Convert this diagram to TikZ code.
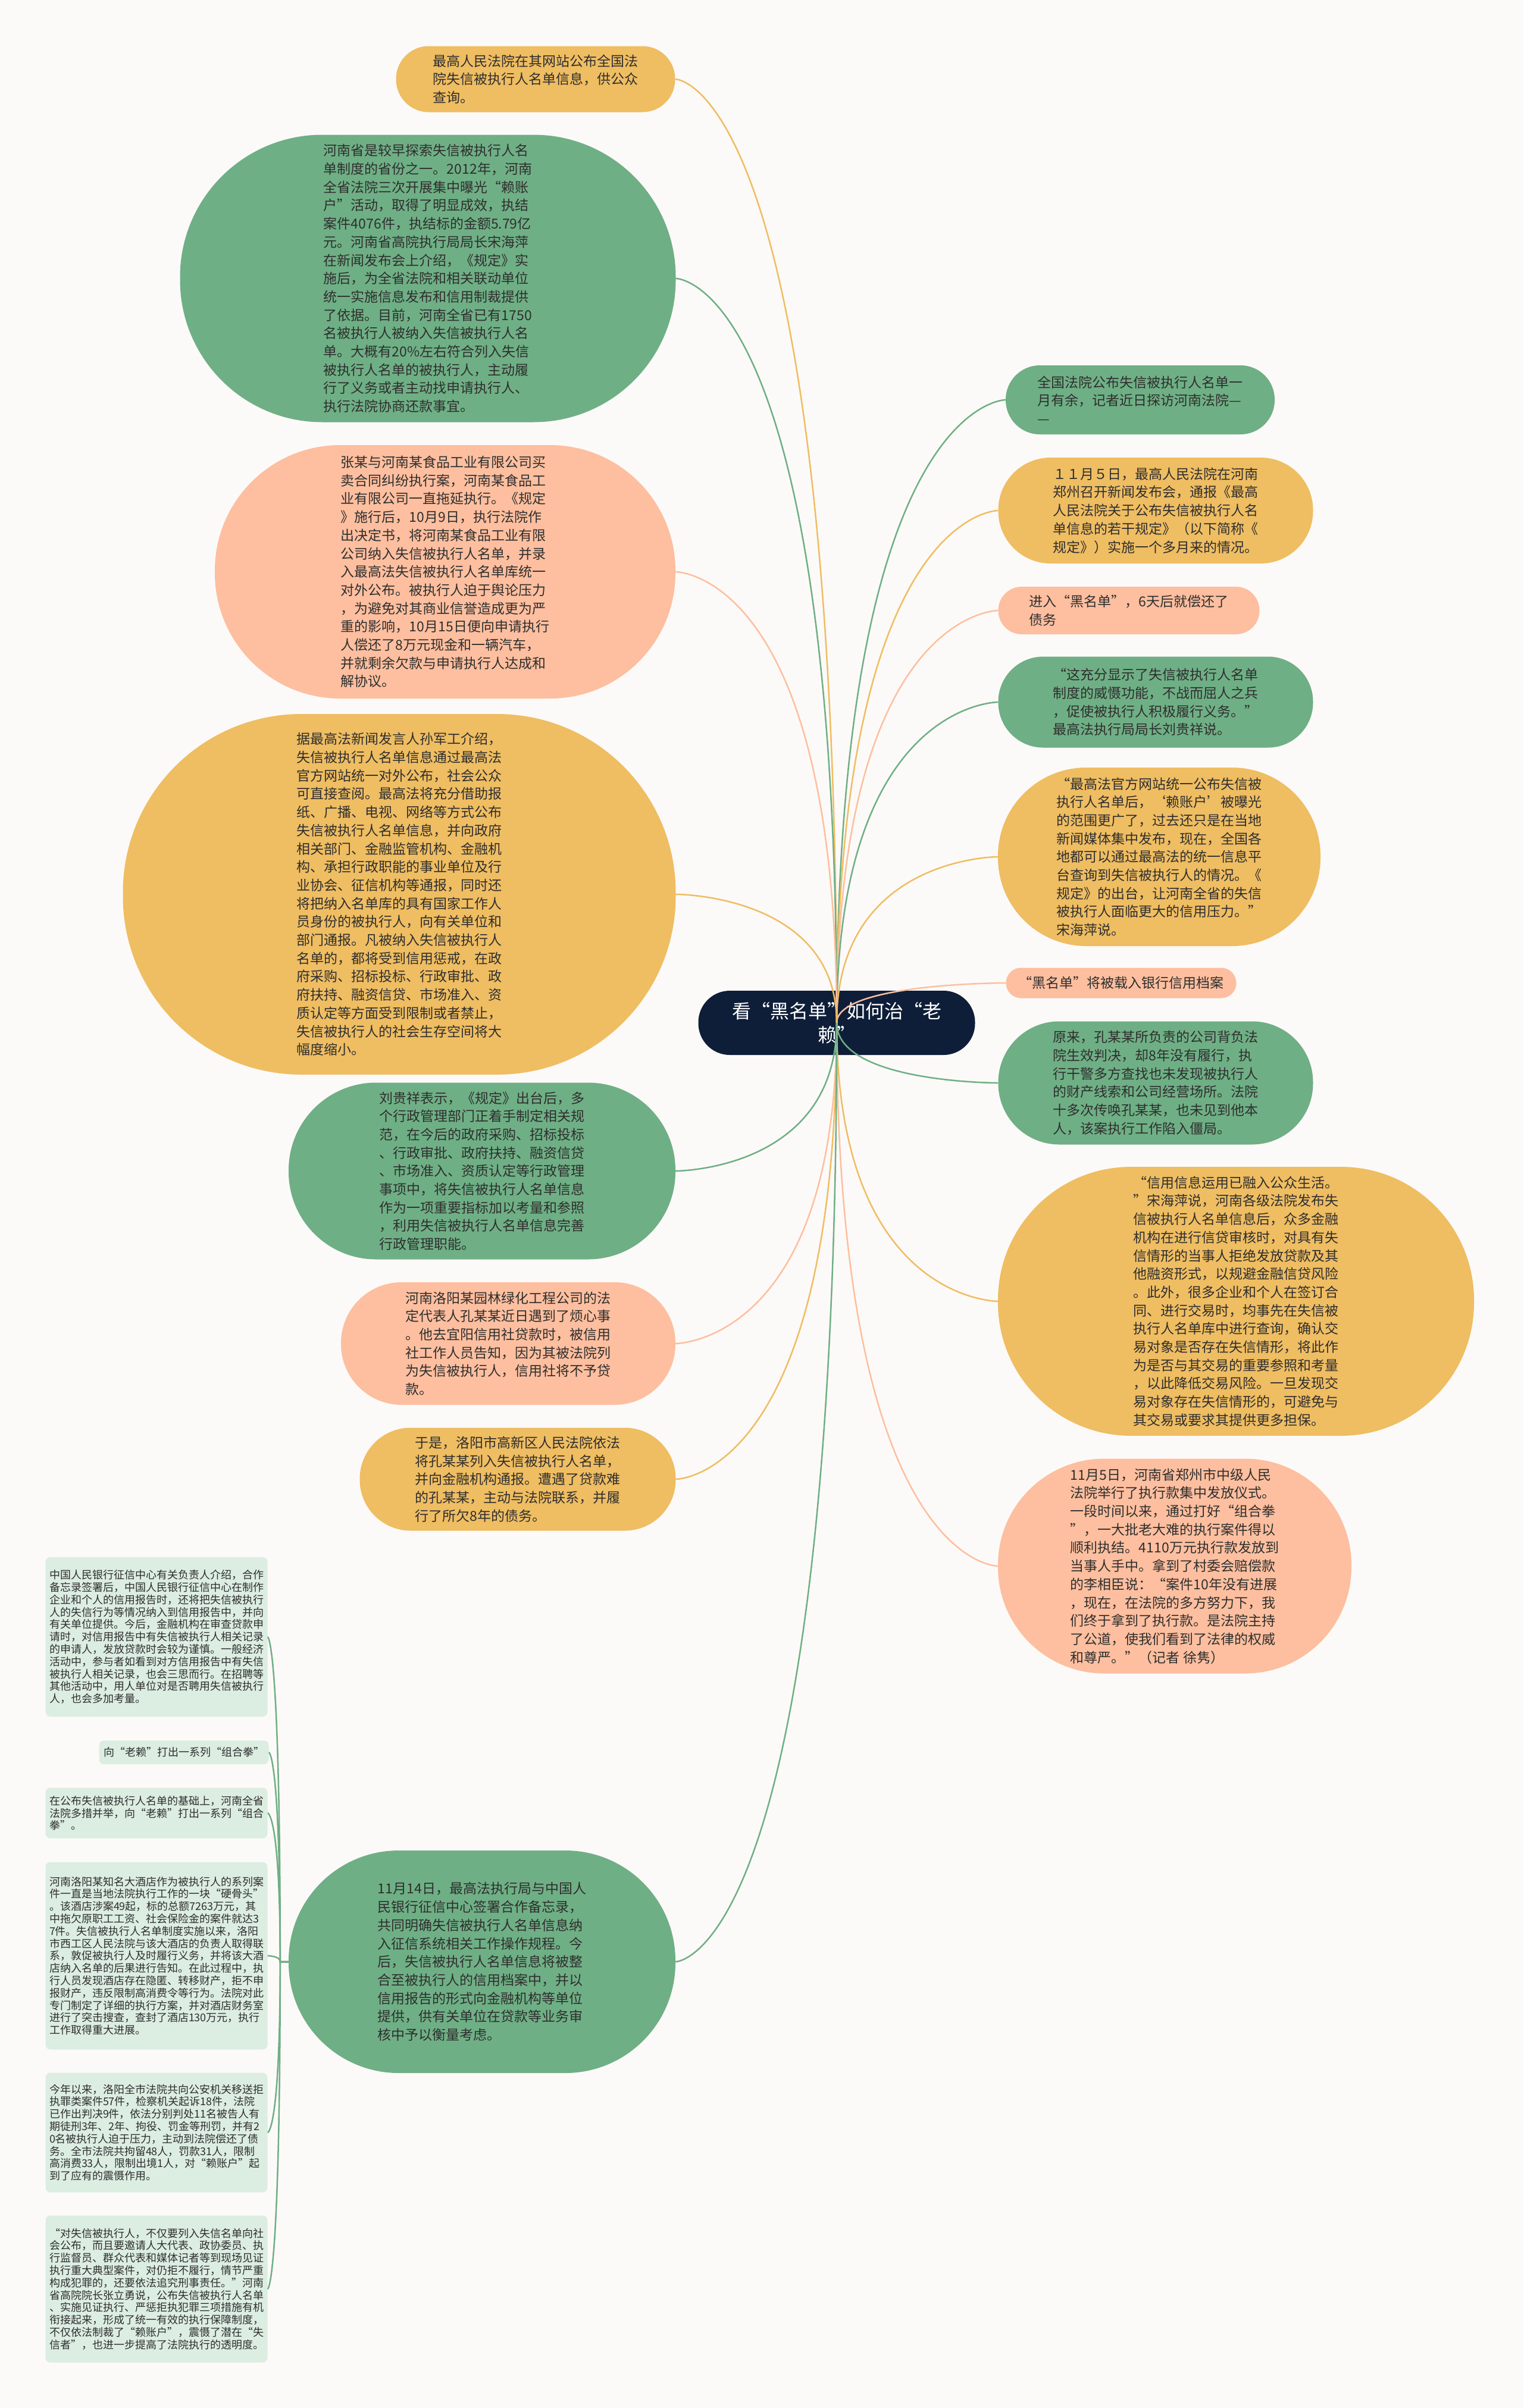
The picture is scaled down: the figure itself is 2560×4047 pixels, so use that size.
\documentclass[tikz,border=0pt]{standalone}
\usepackage{fontspec}
\setmainfont{Noto Sans CJK SC}
\usetikzlibrary{calc}
\definecolor{yel}{HTML}{EFBD62}
\definecolor{grn}{HTML}{6FAF85}
\definecolor{sal}{HTML}{FDBF9F}
\definecolor{navy}{HTML}{0E1E38}
\definecolor{pale}{HTML}{DCEDE2}
\definecolor{bgc}{HTML}{FCFAF8}
\definecolor{ink}{HTML}{2E2E2E}

\begin{document}
\begin{tikzpicture}[x=1pt,y=-1pt,
	bub/.style n args={3}{fill=#1,text=ink,align=left,inner sep=0pt,minimum width=#2,minimum height=#3,rounded corners=#3*0.495,font=\fontsize{23}{30.7}\selectfont},
	box/.style={fill=pale,text=ink,align=left,inner sep=0pt,rounded corners=8pt,minimum width=373pt,font=\fontsize{18}{20.8}\selectfont},
	link/.style={line width=2.5pt,draw=#1}]
	\fill[bgc] (0,0) rectangle (2560,4047);
	\useasboundingbox (0,0) rectangle (2560,4047);

	\node [fill=navy,text=white,align=center,inner sep=0pt,minimum width=465pt,minimum height=108pt,rounded corners=53pt,font=\fontsize{32}{40}\selectfont] (root) at (1406,1719) {看“黑名单”如何治“老\\赖”};

	% left side
	\node [bub={yel}{469pt}{111pt}] (web) at (900,133) {最高人民法院在其网站公布全国法\\
院失信被执行人名单信息，供公众\\
查询。};
	\node [bub={grn}{833pt}{483pt}] (henan) at (719,468) {河南省是较早探索失信被执行人名\\
单制度的省份之一。2012年，河南\\
全省法院三次开展集中曝光“赖账\\
户”活动，取得了明显成效，执结\\
案件4076件，执结标的金额5.79亿\\
元。河南省高院执行局局长宋海萍\\
在新闻发布会上介绍，《规定》实\\
施后，为全省法院和相关联动单位\\
统一实施信息发布和信用制裁提供\\
了依据。目前，河南全省已有1750\\
名被执行人被纳入失信被执行人名\\
单。大概有20\%左右符合列入失信\\
被执行人名单的被执行人，主动履\\
行了义务或者主动找申请执行人、\\
执行法院协商还款事宜。};
	\node [bub={sal}{774pt}{426pt}] (zhang) at (748,961) {张某与河南某食品工业有限公司买\\
卖合同纠纷执行案，河南某食品工\\
业有限公司一直拖延执行。《规定\\
》施行后，10月9日，执行法院作\\
出决定书，将河南某食品工业有限\\
公司纳入失信被执行人名单，并录\\
入最高法失信被执行人名单库统一\\
对外公布。被执行人迫于舆论压力\\
，为避免对其商业信誉造成更为严\\
重的影响，10月15日便向申请执行\\
人偿还了8万元现金和一辆汽车，\\
并就剩余欠款与申请执行人达成和\\
解协议。};
	\node [bub={yel}{929pt}{606pt}] (sun) at (671,1503) {据最高法新闻发言人孙军工介绍，\\
失信被执行人名单信息通过最高法\\
官方网站统一对外公布，社会公众\\
可直接查阅。最高法将充分借助报\\
纸、广播、电视、网络等方式公布\\
失信被执行人名单信息，并向政府\\
相关部门、金融监管机构、金融机\\
构、承担行政职能的事业单位及行\\
业协会、征信机构等通报，同时还\\
将把纳入名单库的具有国家工作人\\
员身份的被执行人，向有关单位和\\
部门通报。凡被纳入失信被执行人\\
名单的，都将受到信用惩戒，在政\\
府采购、招标投标、行政审批、政\\
府扶持、融资信贷、市场准入、资\\
质认定等方面受到限制或者禁止，\\
失信被执行人的社会生存空间将大\\
幅度缩小。};
	\node [bub={grn}{650pt}{297pt}] (liu) at (810,1968) {刘贵祥表示，《规定》出台后，多\\
个行政管理部门正着手制定相关规\\
范，在今后的政府采购、招标投标\\
、行政审批、政府扶持、融资信贷\\
、市场准入、资质认定等行政管理\\
事项中，将失信被执行人名单信息\\
作为一项重要指标加以考量和参照\\
，利用失信被执行人名单信息完善\\
行政管理职能。};
	\node [bub={sal}{562pt}{206pt}] (kong) at (854,2258) {河南洛阳某园林绿化工程公司的法\\
定代表人孔某某近日遇到了烦心事\\
。他去宜阳信用社贷款时，被信用\\
社工作人员告知，因为其被法院列\\
为失信被执行人，信用社将不予贷\\
款。};
	\node [bub={yel}{531pt}{173pt}] (gaoxin) at (870,2486) {于是，洛阳市高新区人民法院依法\\
将孔某某列入失信被执行人名单，\\
并向金融机构通报。遭遇了贷款难\\
的孔某某，主动与法院联系，并履\\
行了所欠8年的债务。};
	\node [bub={grn}{650pt}{374pt}] (zhengxin) at (810,3297) {11月14日，最高法执行局与中国人\\
民银行征信中心签署合作备忘录，\\
共同明确失信被执行人名单信息纳\\
入征信系统相关工作操作规程。今\\
后，失信被执行人名单信息将被整\\
合至被执行人的信用档案中，并以\\
信用报告的形式向金融机构等单位\\
提供，供有关单位在贷款等业务审\\
核中予以衡量考虑。};

	% small boxes under zhengxin
	\node [box,minimum height=268pt] (pboc) at (263,2751) {中国人民银行征信中心有关负责人介绍，合作\\
备忘录签署后，中国人民银行征信中心在制作\\
企业和个人的信用报告时，还将把失信被执行\\
人的失信行为等情况纳入到信用报告中，并向\\
有关单位提供。今后，金融机构在审查贷款申\\
请时，对信用报告中有失信被执行人相关记录\\
的申请人，发放贷款时会较为谨慎。一般经济\\
活动中，参与者如看到对方信用报告中有失信\\
被执行人相关记录，也会三思而行。在招聘等\\
其他活动中，用人单位对是否聘用失信被执行\\
人，也会多加考量。};
	\node [box,minimum width=285pt,minimum height=40pt] (combo) at (309,2945) {向“老赖”打出一系列“组合拳”};
	\node [box,minimum height=85pt] (base) at (263,3047) {在公布失信被执行人名单的基础上，河南全省\\
法院多措并举，向“老赖”打出一系列“组合\\
拳”。};
	\node [box,minimum height=315pt] (hotel) at (263,3287) {河南洛阳某知名大酒店作为被执行人的系列案\\
件一直是当地法院执行工作的一块“硬骨头”\\
。该酒店涉案49起，标的总额7263万元，其\\
中拖欠原职工工资、社会保险金的案件就达3\\
7件。失信被执行人名单制度实施以来，洛阳\\
市西工区人民法院与该大酒店的负责人取得联\\
系，敦促被执行人及时履行义务，并将该大酒\\
店纳入名单的后果进行告知。在此过程中，执\\
行人员发现酒店存在隐匿、转移财产，拒不申\\
报财产，违反限制高消费令等行为。法院对此\\
专门制定了详细的执行方案，并对酒店财务室\\
进行了突击搜查，查封了酒店130万元，执行\\
工作取得重大进展。};
	\node [box,minimum height=201pt] (luoyang) at (263,3584) {今年以来，洛阳全市法院共向公安机关移送拒\\
执罪类案件57件，检察机关起诉18件，法院\\
已作出判决9件，依法分别判处11名被告人有\\
期徒刑3年、2年、拘役、罚金等刑罚，并有2\\
0名被执行人迫于压力，主动到法院偿还了债\\
务。全市法院共拘留48人，罚款31人，限制\\
高消费33人，限制出境1人，对“赖账户”起\\
到了应有的震慑作用。};
	\node [box,minimum height=247pt] (zhangly) at (263,3847) {“对失信被执行人，不仅要列入失信名单向社\\
会公布，而且要邀请人大代表、政协委员、执\\
行监督员、群众代表和媒体记者等到现场见证\\
执行重大典型案件，对仍拒不履行，情节严重\\
构成犯罪的，还要依法追究刑事责任。”河南\\
省高院院长张立勇说，公布失信被执行人名单\\
、实施见证执行、严惩拒执犯罪三项措施有机\\
衔接起来，形成了统一有效的执行保障制度，\\
不仅依法制裁了“赖账户”，震慑了潜在“失\\
信者”，也进一步提高了法院执行的透明度。};

	% right side
	\node [bub={grn}{452pt}{116pt}] (visit) at (1916,672) {全国法院公布失信被执行人名单一\\
月有余，记者近日探访河南法院—\\
—};
	\node [bub={yel}{529pt}{178pt}] (nov5) at (1942,858) {１１月５日，最高人民法院在河南\\
郑州召开新闻发布会，通报《最高\\
人民法院关于公布失信被执行人名\\
单信息的若干规定》（以下简称《\\
规定》）实施一个多月来的情况。};
	\node [bub={sal}{439pt}{80pt}] (sixdays) at (1897,1026) {进入“黑名单”，6天后就偿还了\\
债务};
	\node [bub={grn}{529pt}{153pt}] (deter) at (1942,1180) {“这充分显示了失信被执行人名单\\
制度的威慑功能，不战而屈人之兵\\
，促使被执行人积极履行义务。”\\
最高法执行局局长刘贵祥说。};
	\node [bub={yel}{542pt}{300pt}] (website) at (1948,1440) {“最高法官方网站统一公布失信被\\
执行人名单后，‘赖账户’被曝光\\
的范围更广了，过去还只是在当地\\
新闻媒体集中发布，现在，全国各\\
地都可以通过最高法的统一信息平\\
台查询到失信被执行人的情况。《\\
规定》的出台，让河南全省的失信\\
被执行人面临更大的信用压力。”\\
宋海萍说。};
	\node [bub={sal}{387pt}{51pt}] (bank) at (1884,1652) {“黑名单”将被载入银行信用档案};
	\node [bub={grn}{529pt}{207pt}] (origin) at (1942,1820) {原来，孔某某所负责的公司背负法\\
院生效判决，却8年没有履行，执\\
行干警多方查找也未发现被执行人\\
的财产线索和公司经营场所。法院\\
十多次传唤孔某某，也未见到他本\\
人，该案执行工作陷入僵局。};
	\node [bub={yel}{800pt}{452pt}] (credit) at (2077,2187) {“信用信息运用已融入公众生活。\\
”宋海萍说，河南各级法院发布失\\
信被执行人名单信息后，众多金融\\
机构在进行信贷审核时，对具有失\\
信情形的当事人拒绝发放贷款及其\\
他融资形式，以规避金融信贷风险\\
。此外，很多企业和个人在签订合\\
同、进行交易时，均事先在失信被\\
执行人名单库中进行查询，确认交\\
易对象是否存在失信情形，将此作\\
为是否与其交易的重要参照和考量\\
，以此降低交易风险。一旦发现交\\
易对象存在失信情形的，可避免与\\
其交易或要求其提供更多担保。};
	\node [bub={sal}{594pt}{361pt}] (payout) at (1974,2632) {11月5日，河南省郑州市中级人民\\
法院举行了执行款集中发放仪式。\\
一段时间以来，通过打好“组合拳\\
”，一大批老大难的执行案件得以\\
顺利执结。4110万元执行款发放到\\
当事人手中。拿到了村委会赔偿款\\
的李相臣说：“案件10年没有进展\\
，现在，在法院的多方努力下，我\\
们终于拿到了执行款。是法院主持\\
了公道，使我们看到了法律的权威\\
和尊严。”（记者 徐隽）};

	% connectors
	\foreach \n/\c in {visit/grn,nov5/yel,sixdays/sal,deter/grn,website/yel,bank/sal,origin/grn,credit/yel,payout/sal}
		\draw[link=\c] (root.center) .. controls (root.center |- \n.west) and (\n.west) .. (\n.west);
	\foreach \n/\c in {web/yel,henan/grn,zhang/sal,sun/yel,liu/grn,kong/sal,gaoxin/yel,zhengxin/grn}
		\draw[link=\c] (root.center) .. controls (root.center |- \n.east) and (\n.east) .. (\n.east);
	\coordinate (hub) at ([xshift=-14pt]zhengxin.west);
	\foreach \n in {pboc,combo,base,hotel,luoyang,zhangly}
		\draw[link=grn] (zhengxin.west) -- (hub) .. controls (hub |- \n.east) and (\n.east) .. (\n.east);
\end{tikzpicture}
\end{document}
